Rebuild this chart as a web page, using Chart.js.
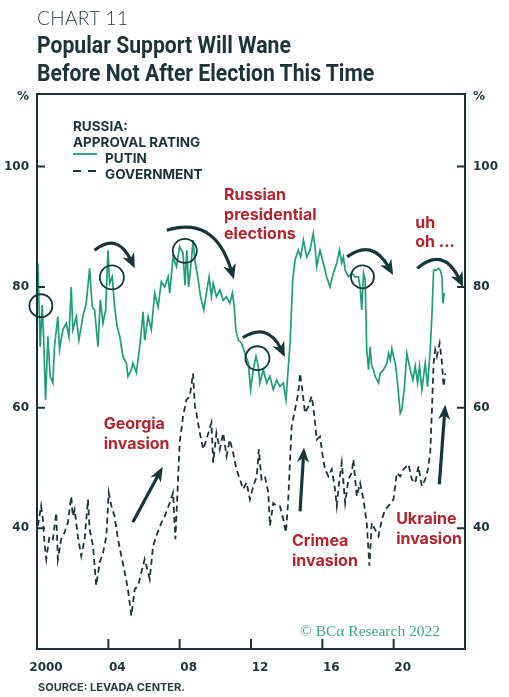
<!DOCTYPE html>
<html lang="en">
  <head>
    <meta charset="UTF-8" />
    <meta name="viewport" content="width=device-width, initial-scale=1.0" />
    <script src="https://cdn.jsdelivr.net/npm/chart.js@4.4.0/dist/chart.umd.min.js"></script>
    <title>Chart 11</title>
    <style>
      html, body { margin: 0; padding: 0; background: #fff; }
      .wrap { position: relative; width: 509px; height: 697px; overflow: hidden; }
      canvas { position: absolute; left: 0; top: 0; }
      .num { position: absolute; left: 37px; top: 7px; font: 300 19px/22px Lato, "Open Sans", sans-serif; color: #2a3b3e; letter-spacing: 0.4px; }
      .title { position: absolute; left: 37px; top: 32px; font: 700 23px/28px Roboto, sans-serif; color: #1c3337; transform: scaleX(0.92); transform-origin: left top; white-space: nowrap; }
      .src { position: absolute; left: 38px; top: 681px; font: 700 11px/12px Inter, sans-serif; color: #2a3b3e; }
    </style>
  </head>
  <body>
    <div class="wrap">
      <canvas id="myChart" width="509" height="697"></canvas>
      <div class="num">CHART 11</div>
      <div class="title">Popular Support Will Wane<br />Before Not After Election This Time</div>
      <div class="src">SOURCE: LEVADA CENTER.</div>
    </div>

    <script>
      // Levada approval ratings (decimal years)
      var putinYears = [
        2000.05, 2000.18, 2000.29, 2000.37, 2000.48, 2000.61, 2000.74, 2000.89, 2000.98,
        2001.17, 2001.26, 2001.45, 2001.64, 2001.79, 2001.92, 2002.01, 2002.2, 2002.35,
        2002.57, 2002.76, 2002.95, 2003.1, 2003.23, 2003.42, 2003.55, 2003.7, 2003.85,
        2003.98, 2004.07, 2004.22, 2004.35, 2004.49, 2004.64, 2004.82, 2005.01, 2005.1,
        2005.29, 2005.38, 2005.57, 2005.76, 2005.95, 2006.04, 2006.23, 2006.41, 2006.6,
        2006.79, 2006.97, 2007.16, 2007.35, 2007.44, 2007.63, 2007.82, 2008.0, 2008.19,
        2008.3, 2008.4, 2008.5, 2008.66, 2008.75, 2008.85, 2009.04, 2009.17, 2009.35,
        2009.5, 2009.65, 2009.78, 2009.88, 2010.06, 2010.25, 2010.44, 2010.63, 2010.81,
        2010.96, 2011.06, 2011.15, 2011.29, 2011.47, 2011.66, 2011.85, 2011.98, 2012.13,
        2012.28, 2012.41, 2012.5, 2012.69, 2012.88, 2013.06, 2013.25, 2013.44, 2013.62,
        2013.81, 2013.96, 2014.04, 2014.19, 2014.34, 2014.47, 2014.65, 2014.79, 2014.94,
        2015.12, 2015.31, 2015.49, 2015.59, 2015.68, 2015.87, 2016.06, 2016.24, 2016.43,
        2016.62, 2016.81, 2016.96, 2017.09, 2017.18, 2017.28, 2017.46, 2017.65, 2017.84,
        2018.02, 2018.12, 2018.21, 2018.31, 2018.4, 2018.49, 2018.59, 2018.68, 2018.77,
        2018.87, 2018.96, 2019.15, 2019.24, 2019.43, 2019.62, 2019.71, 2019.81, 2019.9,
        2019.99, 2020.09, 2020.18, 2020.37, 2020.46, 2020.59, 2020.74, 2020.93, 2021.08,
        2021.21, 2021.34, 2021.45, 2021.58, 2021.77, 2021.9, 2022.05, 2022.14, 2022.24,
        2022.39, 2022.52, 2022.61, 2022.71, 2022.76, 2022.84
      ];
      var putinValues = [
        83.9, 70.1, 77.0, 71.8, 61.3, 71.8, 65.2, 64.1, 70.1,
        75.1, 69.6, 72.9, 74.0, 71.8, 80.0, 72.9, 75.1, 71.2,
        75.1, 77.3, 83.1, 76.7, 76.2, 70.1, 77.9, 74.0, 76.2,
        86.1, 80.6, 81.7, 76.7, 73.5, 71.8, 68.5, 67.4, 65.2,
        66.3, 67.4, 65.8, 70.1, 75.9, 71.2, 75.1, 72.9, 79.0,
        76.7, 80.9, 80.0, 81.7, 79.0, 85.0, 83.4, 86.7, 85.6,
        80.3, 86.1, 80.0, 84.5, 87.8, 84.5, 81.2, 78.4, 76.2,
        79.0, 81.7, 78.4, 80.6, 78.4, 79.5, 77.8, 78.4, 77.3,
        79.0, 76.7, 72.9, 71.2, 70.7, 69.0, 67.4, 63.0, 66.3,
        68.5, 66.9, 64.1, 66.3, 64.1, 65.2, 63.0, 64.6, 63.5,
        64.1, 61.3, 64.6, 70.7, 81.2, 84.5, 86.1, 85.0, 87.8,
        85.0, 86.1, 88.9, 86.7, 83.4, 86.1, 83.9, 81.7, 80.0,
        82.3, 84.0, 86.1, 84.0, 85.0, 82.8, 81.7, 82.3, 81.7,
        81.7, 80.0, 76.2, 82.3, 81.2, 69.6, 66.3, 70.1, 66.9,
        66.3, 65.2, 64.1, 65.7, 66.3, 67.4, 69.0, 67.9, 69.8,
        68.5, 67.4, 65.2, 59.1, 59.7, 63.0, 69.0, 66.3, 64.6,
        66.9, 64.1, 66.9, 63.0, 67.4, 63.5, 69.6, 75.1, 82.8,
        82.8, 83.1, 82.8, 81.7, 77.3, 79.0
      ];

      var govYears = [
        2000.05, 2000.23, 2000.33, 2000.42, 2000.52, 2000.7, 2000.89, 2001.08, 2001.17,
        2001.36, 2001.54, 2001.73, 2001.92, 2002.01, 2002.11, 2002.29, 2002.48, 2002.67,
        2002.86, 2002.95, 2003.14, 2003.32, 2003.51, 2003.7, 2003.89, 2004.02, 2004.17,
        2004.35, 2004.54, 2004.73, 2004.92, 2005.1, 2005.29, 2005.48, 2005.67, 2005.85,
        2006.04, 2006.23, 2006.32, 2006.51, 2006.69, 2006.97, 2007.16, 2007.44, 2007.63,
        2007.76, 2007.86, 2008.0, 2008.19, 2008.38, 2008.57, 2008.75, 2008.85, 2008.94,
        2009.13, 2009.32, 2009.5, 2009.78, 2009.88, 2010.06, 2010.25, 2010.44, 2010.63,
        2010.81, 2011.0, 2011.18, 2011.38, 2011.56, 2011.75, 2011.94, 2012.13, 2012.32,
        2012.44, 2012.59, 2012.78, 2012.97, 2013.06, 2013.25, 2013.44, 2013.62, 2013.81,
        2013.96, 2014.09, 2014.19, 2014.28, 2014.47, 2014.65, 2014.75, 2014.9, 2015.03,
        2015.22, 2015.4, 2015.49, 2015.59, 2015.68, 2015.87, 2016.02, 2016.15, 2016.34,
        2016.53, 2016.71, 2016.81, 2016.96, 2017.09, 2017.28, 2017.46, 2017.65, 2017.74,
        2017.93, 2018.12, 2018.31, 2018.49, 2018.64, 2018.77, 2018.96, 2019.15, 2019.34,
        2019.52, 2019.8, 2019.99, 2020.18, 2020.37, 2020.55, 2020.83, 2021.02, 2021.21,
        2021.39, 2021.58, 2021.77, 2021.92, 2022.05, 2022.14, 2022.24, 2022.33, 2022.42,
        2022.58, 2022.71, 2022.8, 2022.89
      ];
      var govValues = [
        40.4, 43.7, 41.5, 37.6, 34.9, 38.7, 38.2, 42.6, 34.9,
        38.2, 39.3, 40.9, 45.3, 42.0, 43.1, 38.7, 35.4, 38.2,
        44.8, 39.8, 37.1, 30.5, 34.3, 35.9, 38.7, 45.9, 43.7,
        42.0, 38.2, 35.4, 32.7, 29.9, 25.5, 29.9, 30.5, 32.7,
        34.9, 32.7, 31.6, 37.1, 38.7, 40.9, 42.0, 44.2, 45.9,
        38.2, 44.8, 54.2, 58.6, 61.3, 61.9, 65.7, 60.2, 59.1,
        55.8, 53.1, 54.7, 57.5, 50.9, 55.8, 53.1, 55.8, 52.0,
        54.7, 52.5, 49.8, 48.1, 46.5, 47.6, 44.8, 47.0, 48.6,
        53.1, 48.1, 48.6, 45.9, 40.4, 44.2, 43.7, 43.7, 41.5,
        39.3, 44.8, 51.4, 56.9, 59.7, 62.4, 65.7, 62.4, 59.1,
        60.2, 61.9, 60.2, 57.5, 54.7, 55.2, 52.0, 49.8, 48.6,
        49.8, 46.5, 43.7, 48.1, 50.9, 44.2, 48.1, 49.2, 51.4,
        45.3, 47.5, 44.7, 40.9, 33.8, 40.9, 39.8, 38.7, 41.5,
        43.1, 44.0, 44.8, 49.2, 48.6, 49.8, 50.6, 48.1, 47.5,
        50.3, 47.0, 48.1, 49.8, 52.5, 59.1, 67.4, 69.6, 68.5,
        70.7, 67.4, 63.5, 65.7
      ];

      var yTicks = [40, 60, 80, 100];

      var GREEN = "#1f9e7c";
      var DARK = "#1c3438";
      var RED = "#b3242d";

      // annotations, in (year, value) coordinates
      var circles = [
        [2000.22, 76.9, 11.5], [2004.2, 81.6, 12], [2008.29, 86.0, 12],
        [2012.36, 68.2, 12], [2018.25, 81.7, 11.5]
      ];
      // start, control, tip
      var curves = [
        [[2003.23, 86.1], [2004.52, 89.1], [2005.48, 83.1]],
        [[2007.28, 89.4], [2009.97, 91.9], [2011.04, 81.3]],
        [[2011.54, 71.6], [2012.95, 74.2], [2013.9, 68.4]],
        [[2017.39, 85.0], [2018.79, 88.1], [2019.97, 82.0]],
        [[2021.32, 83.1], [2022.78, 86.8], [2023.9, 80.0]]
      ];
      var straight = [
        [[2005.37, 41.0], [2007.05, 50.2]],
        [[2014.75, 42.8], [2014.97, 53.4]],
        [[2022.56, 47.3], [2022.89, 60.5]]
      ];
      var notes = [
        [2010.49, 94.4, ["Russian", "presidential", "elections"]],
        [2021.21, 89.8, ["uh", "oh ..."]],
        [2003.74, 56.4, ["Georgia", "invasion"]],
        [2014.3, 37.0, ["Crimea", "invasion"]],
        [2020.14, 40.7, ["Ukraine", "invasion"]]
      ];

      function pts(xs, ys) {
        return xs.map(function (t, i) { return { x: t, y: ys[i] }; });
      }

      function arrowHead(ctx, fx, fy, tx, ty, len, wid) {
        var ang = Math.atan2(ty - fy, tx - fx);
        ctx.beginPath();
        ctx.moveTo(tx, ty);
        ctx.lineTo(tx - len * Math.cos(ang) + wid / 2 * Math.sin(ang), ty - len * Math.sin(ang) - wid / 2 * Math.cos(ang));
        ctx.lineTo(tx - len * 0.7 * Math.cos(ang), ty - len * 0.7 * Math.sin(ang));
        ctx.lineTo(tx - len * Math.cos(ang) - wid / 2 * Math.sin(ang), ty - len * Math.sin(ang) + wid / 2 * Math.cos(ang));
        ctx.closePath();
        ctx.fill();
      }

      var deco = {
        id: "deco",
        afterDraw: function (chart) {
          var ctx = chart.ctx, a = chart.chartArea;
          var xs = chart.scales.x, ys = chart.scales.y;
          var px = function (t) { return xs.getPixelForValue(t); };
          var py = function (v) { return ys.getPixelForValue(v); };
          ctx.save();

          // frame + inside ticks
          ctx.strokeStyle = DARK;
          ctx.lineWidth = 2;
          ctx.strokeRect(a.left, a.top, a.right - a.left, a.bottom - a.top);
          ctx.beginPath();
          xs.ticks.forEach(function (tk) {
            var X = px(tk.value);
            ctx.moveTo(X, a.bottom); ctx.lineTo(X, a.bottom - 10);
          });
          ys.ticks.forEach(function (tk) {
            var Y = py(tk.value);
            ctx.moveTo(a.left, Y); ctx.lineTo(a.left + 8, Y);
            ctx.moveTo(a.right - 8, Y); ctx.lineTo(a.right, Y);
          });
          ctx.stroke();

          // % unit labels
          ctx.fillStyle = DARK;
          ctx.font = "700 12px 'DejaVu Sans', sans-serif";
          ctx.textAlign = "center";
          ctx.textBaseline = "alphabetic";
          ctx.fillText("%", a.left - 14, a.top + 6);
          ctx.fillText("%", a.right + 14, a.top + 6);

          // legend
          var lx = a.left + 36;
          ctx.textAlign = "left";
          ctx.font = "700 13.5px Inter, sans-serif";
          ctx.fillText("RUSSIA:", lx, a.top + 37);
          ctx.fillText("APPROVAL RATING", lx, a.top + 53);
          ctx.fillText("PUTIN", lx + 32, a.top + 69);
          ctx.fillText("GOVERNMENT", lx + 32, a.top + 85);
          ctx.lineWidth = 1.8;
          ctx.strokeStyle = GREEN;
          ctx.beginPath(); ctx.moveTo(lx, a.top + 60); ctx.lineTo(lx + 24, a.top + 60); ctx.stroke();
          ctx.strokeStyle = DARK;
          ctx.setLineDash([8, 7]);
          ctx.beginPath(); ctx.moveTo(lx, a.top + 77); ctx.lineTo(lx + 24, a.top + 77); ctx.stroke();
          ctx.setLineDash([]);

          // circles
          ctx.strokeStyle = "#16363a";
          ctx.lineWidth = 1.8;
          circles.forEach(function (c) {
            ctx.beginPath();
            ctx.arc(px(c[0]), py(c[1]), c[2], 0, Math.PI * 2);
            ctx.stroke();
          });

          // curved arrows
          ctx.fillStyle = "#16363a";
          ctx.lineWidth = 3.2;
          curves.forEach(function (c) {
            var s = [px(c[0][0]), py(c[0][1])], k = [px(c[1][0]), py(c[1][1])], e = [px(c[2][0]), py(c[2][1])];
            var ang = Math.atan2(e[1] - k[1], e[0] - k[0]);
            var ex = e[0] - 9 * Math.cos(ang), ey = e[1] - 9 * Math.sin(ang);
            ctx.beginPath();
            ctx.moveTo(s[0], s[1]);
            ctx.quadraticCurveTo(k[0], k[1], ex, ey);
            ctx.stroke();
            arrowHead(ctx, k[0], k[1], e[0], e[1], 15, 13);
          });

          // straight arrows
          straight.forEach(function (s) {
            var x0 = px(s[0][0]), y0 = py(s[0][1]), x1 = px(s[1][0]), y1 = py(s[1][1]);
            var ang = Math.atan2(y1 - y0, x1 - x0);
            ctx.beginPath();
            ctx.moveTo(x0, y0);
            ctx.lineTo(x1 - 9 * Math.cos(ang), y1 - 9 * Math.sin(ang));
            ctx.stroke();
            arrowHead(ctx, x0, y0, x1, y1, 15, 12);
          });

          // red notes
          ctx.fillStyle = RED;
          ctx.font = "700 16px Inter, sans-serif";
          notes.forEach(function (n) {
            n[2].forEach(function (line, i) {
              ctx.fillText(line, px(n[0]), py(n[1]) + i * 19.5);
            });
          });

          // watermark
          ctx.fillStyle = "#3aa98a";
          ctx.font = "15.5px 'Liberation Serif', serif";
          ctx.fillText("\u00a9 BC\u03b1 Research 2022", px(2014.75), py(22.1));

          ctx.restore();
        }
      };

      new Chart("myChart", {
        type: "line",
        data: {
          datasets: [
            {
              label: "Putin",
              data: pts(putinYears, putinValues),
              borderColor: GREEN,
              borderWidth: 1.7,
              pointRadius: 0,
              fill: false,
              tension: 0,
              yAxisID: "y"
            },
            {
              label: "Government",
              data: pts(govYears, govValues),
              borderColor: DARK,
              borderWidth: 1.8,
              borderDash: [6, 4],
              pointRadius: 0,
              fill: false,
              tension: 0,
              yAxisID: "y"
            }
          ]
        },
        options: {
          responsive: false,
          animation: false,
          devicePixelRatio: 1,
          layout: { padding: { top: 94, left: 0, right: 0, bottom: 0 } },
          plugins: { legend: { display: false }, tooltip: { enabled: false } },
          scales: {
            x: {
              type: "linear",
              min: 2000,
              max: 2024,
              grid: { display: false, drawTicks: false },
              border: { display: false },
              afterFit: function (s) { s.height = 48; },
              ticks: {
                stepSize: 4,
                padding: 12,
                labelOffset: 9,
                maxRotation: 0,
                color: DARK,
                font: { family: "'DejaVu Sans'", weight: "bold", size: 12 },
                callback: function (v) {
                  if (v === 2000) return "2000";
                  if (v === 2024) return "";
                  return String(v % 100).padStart(2, "0");
                }
              }
            },
            y: {
              position: "left",
              min: 20,
              max: 112,
              grid: { display: false, drawTicks: false },
              border: { display: false },
              afterBuildTicks: function (s) { s.ticks = yTicks.map(function (v) { return { value: v }; }); },
              afterFit: function (s) { s.width = 37; },
              ticks: { padding: 8, color: DARK, font: { family: "'DejaVu Sans'", weight: "bold", size: 12 } }
            },
            y2: {
              position: "right",
              min: 20,
              max: 112,
              grid: { display: false, drawTicks: false },
              border: { display: false },
              afterBuildTicks: function (s) { s.ticks = yTicks.map(function (v) { return { value: v }; }); },
              afterFit: function (s) { s.width = 44; },
              ticks: { padding: 8, color: DARK, font: { family: "'DejaVu Sans'", weight: "bold", size: 12 } }
            }
          }
        },
        plugins: [deco]
      });
    </script>
  </body>
</html>
